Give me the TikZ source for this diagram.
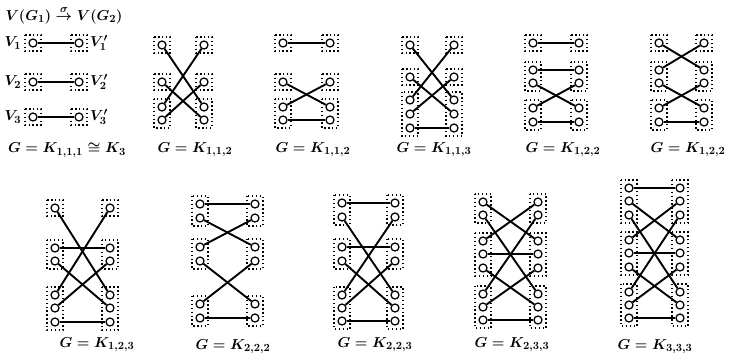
\documentclass[tikz,border=0pt]{standalone}
\usepackage{amsmath,amssymb}
\newcommand\dgrp[3]{\draw[grp] (#1-8,#2-8) rectangle (#1+8,#3+8);}
\begin{document}
\begin{tikzpicture}[x=1pt,y=-1pt,
  vtx/.style={circle,draw,line width=1.25pt,fill=white,minimum size=8pt,inner sep=0pt},
  grp/.style={line width=1.4pt,dash pattern=on 1.4pt off 2.5pt},
  edg/.style={line width=1.9pt},
  lab/.style={font=\fontsize{15}{18}\selectfont\boldmath,inner sep=0pt}]
\useasboundingbox (0,0) rectangle (731,360);
% ---------- a : K_{1,1,1}
\foreach \yy in {43,82,117}{\dgrp{33}{\yy}{\yy}\dgrp{79}{\yy}{\yy}}
\foreach \yy [count=\i] in {43,82,117}{\node[vtx](aL\i) at (33,\yy){}; \node[vtx](aR\i) at (79,\yy){};}
\foreach \i in {1,2,3}{\draw[edg](aL\i)--(aR\i);}
\node[lab] (title) at (64,15) {$V(G_1)\overset{\sigma}{\to}V(G_2)$};
\node[lab] (v1) at (13,43) {$V_1$};
\node[lab] (v2) at (13,82) {$V_2$};
\node[lab] (v3) at (13,117) {$V_3$};
\node[lab] (w1) at (99,43) {$V_1'$};
\node[lab] (w2) at (99,82) {$V_2'$};
\node[lab] (w3) at (99,117) {$V_3'$};
\node[lab] (la) at (67,150) {$G=K_{1,1,1}\cong K_3$};
% ---------- b : K_{1,1,2}
\foreach \x in {162,204}{\dgrp{\x}{45}{45}\dgrp{\x}{82}{82}\dgrp{\x}{107}{120}}
\foreach \yy [count=\i] in {45,82,107,120}{\node[vtx](bL\i) at (162,\yy){}; \node[vtx](bR\i) at (204,\yy){};}
\foreach \a/\b in {1/3,2/4}{\draw[edg](bL\a)--(bR\b);}
\foreach \a/\b in {3/1,4/2}{\draw[edg](bL\a)--(bR\b);}
\node[lab] (lb) at (195,150) {$G=K_{1,1,2}$};
% ---------- c : K_{1,1,2}
\foreach \x in {283,330}{\dgrp{\x}{43}{43}\dgrp{\x}{82}{82}\dgrp{\x}{107}{120}}
\foreach \yy [count=\i] in {43,82,107,120}{\node[vtx](cL\i) at (283,\yy){}; \node[vtx](cR\i) at (330,\yy){};}
\foreach \a/\b in {1/1,2/3,3/2,4/4}{\draw[edg](cL\a)--(cR\b);}
\node[lab] (lc) at (313,150) {$G=K_{1,1,2}$};
% ---------- d : K_{1,1,3}
\foreach \x in {410,454}{\dgrp{\x}{45}{45}\dgrp{\x}{77}{77}\dgrp{\x}{100}{128}}
\foreach \yy [count=\i] in {45,77,100,114,128}{\node[vtx](dL\i) at (410,\yy){}; \node[vtx](dR\i) at (454,\yy){};}
\foreach \a/\b in {1/3,2/4,3/1,4/2,5/5}{\draw[edg](dL\a)--(dR\b);}
\node[lab] (ld) at (434,150) {$G=K_{1,1,3}$};
% ---------- e : K_{1,2,2}
\foreach \x in {533,579}{\dgrp{\x}{43}{43}\dgrp{\x}{70}{83}\dgrp{\x}{108}{122}}
\foreach \yy [count=\i] in {43,70,83,108,122}{\node[vtx](eL\i) at (533,\yy){}; \node[vtx](eR\i) at (579,\yy){};}
\foreach \a/\b in {1/1,2/2,3/4,4/3,5/5}{\draw[edg](eL\a)--(eR\b);}
\node[lab] (le) at (563,150) {$G=K_{1,2,2}$};
% ---------- f : K_{1,2,2}
\foreach \x in {659,704}{\dgrp{\x}{43}{43}\dgrp{\x}{70}{83}\dgrp{\x}{108}{122}}
\foreach \yy [count=\i] in {43,70,83,108,122}{\node[vtx](fL\i) at (659,\yy){}; \node[vtx](fR\i) at (704,\yy){};}
\foreach \a/\b in {1/2,2/1,3/4,4/3,5/5}{\draw[edg](fL\a)--(fR\b);}
\node[lab] (lf) at (688,150) {$G=K_{1,2,2}$};
% ---------- g : K_{1,2,3}
\foreach \x in {55,110}{\dgrp{\x}{208}{208}\dgrp{\x}{248}{261}\dgrp{\x}{295}{322}}
\foreach \yy [count=\i] in {208,248,261,295,308,322}{\node[vtx](gL\i) at (55,\yy){}; \node[vtx](gR\i) at (110,\yy){};}
\foreach \a/\b in {1/4,4/1,2/2,3/5,5/3,6/6}{\draw[edg](gL\a)--(gR\b);}
\node[lab] (lg) at (97,345) {$G=K_{1,2,3}$};
% ---------- h : K_{2,2,2}
\foreach \x in {200,255}{\dgrp{\x}{204}{218}\dgrp{\x}{247}{261}\dgrp{\x}{304}{318}}
\foreach \yy [count=\i] in {204,218,247,261,304,318}{\node[vtx](hL\i) at (200,\yy){}; \node[vtx](hR\i) at (255,\yy){};}
\foreach \a/\b in {1/1,2/3,3/2,4/5,5/4,6/6}{\draw[edg](hL\a)--(hR\b);}
\node[lab] (lh) at (233,347) {$G=K_{2,2,2}$};
% ---------- i : K_{2,2,3}
\foreach \x in {342,395}{\dgrp{\x}{203}{217}\dgrp{\x}{247}{261}\dgrp{\x}{295}{321}}
\foreach \yy [count=\i] in {203,217,247,261,295,308,321}{\node[vtx](iL\i) at (342,\yy){}; \node[vtx](iR\i) at (395,\yy){};}
\foreach \a/\b in {1/1,2/5,5/2,3/3,4/6,6/4,7/7}{\draw[edg](iL\a)--(iR\b);}
\node[lab] (li) at (375,345) {$G=K_{2,2,3}$};
% ---------- j : K_{2,3,3}
\foreach \x in {483,538}{\dgrp{\x}{202}{215}\dgrp{\x}{241}{268}\dgrp{\x}{294}{320}}
\foreach \yy [count=\i] in {202,215,241,254,268,294,307,320}{\node[vtx](jL\i) at (483,\yy){}; \node[vtx](jR\i) at (538,\yy){};}
\foreach \a/\b in {1/3,3/1,2/6,6/2,4/4,5/7,7/5,8/8}{\draw[edg](jL\a)--(jR\b);}
\node[lab] (lj) at (512,345) {$G=K_{2,3,3}$};
% ---------- k : K_{3,3,3}
\foreach \x in {629,680}{\dgrp{\x}{188}{215}\dgrp{\x}{240}{267}\dgrp{\x}{292}{318}}
\foreach \yy [count=\i] in {188,201,215,240,253,267,292,305,318}{\node[vtx](kL\i) at (629,\yy){}; \node[vtx](kR\i) at (680,\yy){};}
\foreach \a/\b in {1/1,2/4,4/2,3/7,7/3,5/5,6/8,8/6,9/9}{\draw[edg](kL\a)--(kR\b);}
\node[lab] (lk) at (655,347) {$G=K_{3,3,3}$};
\end{tikzpicture}
\end{document}
